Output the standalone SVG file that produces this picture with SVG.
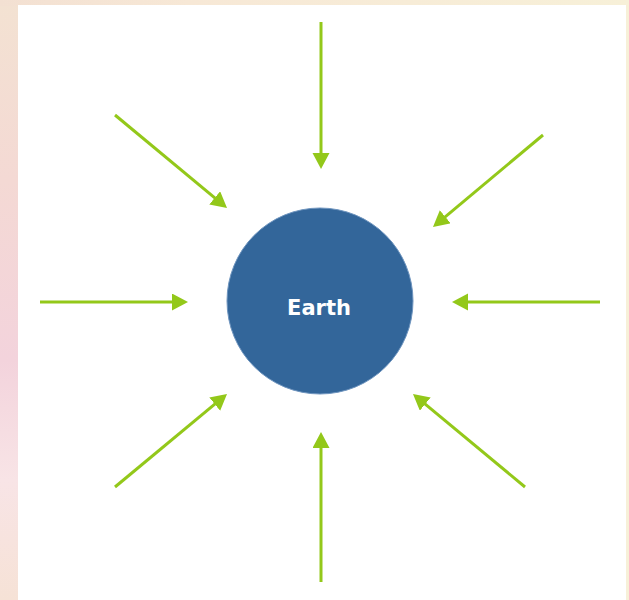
<svg xmlns="http://www.w3.org/2000/svg" width="629" height="600" viewBox="0 0 629 600">
  <defs>
    <linearGradient id="bg" x1="0" y1="0" x2="0" y2="1">
      <stop offset="0" stop-color="#f3e2d2"/>
      <stop offset="0.3" stop-color="#f4d9d4"/>
      <stop offset="0.6" stop-color="#f3d3dc"/>
      <stop offset="0.8" stop-color="#f8e4e6"/>
      <stop offset="1" stop-color="#f6e2d6"/>
    </linearGradient>
    <linearGradient id="topband" x1="0" y1="0" x2="1" y2="0">
      <stop offset="0" stop-color="#f3e0d2"/>
      <stop offset="0.3" stop-color="#f7e8d6"/>
      <stop offset="1" stop-color="#f7f0d8"/>
    </linearGradient>
    <marker id="head" markerUnits="userSpaceOnUse" markerWidth="17" markerHeight="18" refX="4" refY="8.5" orient="auto">
      <path d="M0,0 L16,8.5 L0,17 z" fill="#93c81a"/>
    </marker>
    <style>
      .arrow { stroke: #93c81a; stroke-width: 3; fill: none; marker-end: url(#head); }
      .label { font-family: "DejaVu Sans", Verdana, sans-serif; font-weight: bold; font-size: 21px; fill: #ffffff; text-anchor: middle; }
    </style>
  </defs>
  <rect x="0" y="0" width="629" height="600" fill="url(#bg)"/>
  <rect x="0" y="0" width="629" height="6" fill="url(#topband)"/>
  <rect x="626" y="0" width="3" height="600" fill="#f7f0d8"/>
  <rect x="18" y="5" width="608" height="595" fill="#ffffff"/>

  <g id="connectors">
    <line class="arrow" x1="321" y1="22" x2="321" y2="157"/>
    <line class="arrow" x1="321" y1="582" x2="321" y2="444"/>
    <line class="arrow" x1="40" y1="302" x2="176" y2="302"/>
    <line class="arrow" x1="600" y1="302" x2="464" y2="302"/>
    <line class="arrow" x1="115" y1="115" x2="217.8" y2="200.4"/>
    <line class="arrow" x1="543" y1="135" x2="442.2" y2="219.3"/>
    <line class="arrow" x1="115" y1="487" x2="217.8" y2="401.6"/>
    <line class="arrow" x1="525" y1="487" x2="422.2" y2="401.6"/>
  </g>

  <g id="earth">
    <circle cx="320" cy="301" r="93" fill="#33669a" stroke="#6f95bf" stroke-width="1"/>
    <text class="label" x="319" y="315">Earth</text>
  </g>
</svg>
